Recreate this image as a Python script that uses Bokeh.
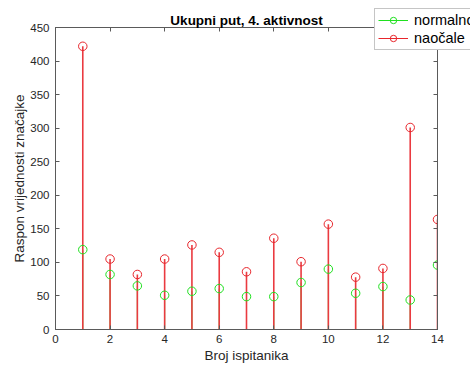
from jinja2 import Template
from bokeh.plotting import figure
from bokeh.models import (ColumnDataSource, LinearAxis, FixedTicker, Range1d,
                          Legend, LegendItem)
from bokeh.embed import file_html
from bokeh.resources import INLINE

# Feature range per participant, activity 4
subjects = list(range(1, 15))
normalno = [119, 82, 65, 51, 57, 61, 49, 49, 70, 90, 54, 64, 44, 96]
naocale = [422, 105, 82, 105, 126, 115, 86, 136, 101, 157, 78, 91, 301, 164]

x_ticks = [0, 2, 4, 6, 8, 10, 12, 14]
y_ticks = [0, 50, 100, 150, 200, 250, 300, 350, 400, 450]

GREEN = "#1fe01f"
RED = "#e8262c"
STEM_RED = "#ea3a40"
AXIS = "#5a5a5a"
TEXT = "#262626"
FONT = "Liberation Sans"
W, H = 470, 365

p = figure(width=W, height=H, output_backend="svg", toolbar_location=None,
           x_range=Range1d(0, 14), y_range=Range1d(0, 450),
           min_border_left=55, min_border_right=33,
           min_border_top=27, min_border_bottom=36,
           title="Ukupni put, 4. aktivnost")
p.background_fill_color = "white"
p.border_fill_color = "white"
p.outline_line_color = AXIS
p.xgrid.visible = False
p.ygrid.visible = False

p.title.align = "center"
p.title.text_font = FONT
p.title.text_font_size = "13.5px"
p.title.text_font_style = "bold"
p.title.text_color = "black"
p.title.standoff = 0
p.title.offset = 0

src_n = ColumnDataSource(dict(x=subjects, y=normalno, y0=[0] * len(subjects)))
src_o = ColumnDataSource(dict(x=subjects, y=naocale, y0=[0] * len(subjects)))

# stems: the red series is drawn on top of the green one
p.segment(x0="x", y0="y0", x1="x", y1="y", source=src_n,
          line_color=GREEN, line_width=1)
p.segment(x0="x", y0="y0", x1="x", y1="y", source=src_o,
          line_color=STEM_RED, line_width=1.6)
p.scatter(x="x", y="y", source=src_n, marker="circle", size=8.5,
          fill_color=None, line_color=GREEN, line_width=1)
p.scatter(x="x", y="y", source=src_o, marker="circle", size=8.5,
          fill_color=None, line_color=RED, line_width=1)


def style_axis(ax, show_labels=True):
    ax.axis_line_color = AXIS
    ax.major_tick_line_color = AXIS
    ax.major_tick_in = 4
    ax.major_tick_out = 0
    ax.minor_tick_line_color = None
    ax.major_label_text_font = FONT
    if show_labels:
        ax.major_label_text_color = TEXT
        ax.major_label_text_font_size = "11.5px"
    else:
        # tick marks only, no labels
        ax.major_label_text_color = None
        ax.major_label_text_font_size = "1px"
        ax.major_label_standoff = 0


xa = p.xaxis[0]
xa.ticker = FixedTicker(ticks=x_ticks)
style_axis(xa)
xa.major_label_standoff = 5
xa.axis_label = "Broj ispitanika"
xa.axis_label_standoff = 2
xa.axis_label_text_font = FONT
xa.axis_label_text_font_size = "13.5px"
xa.axis_label_text_font_style = "normal"
xa.axis_label_text_color = TEXT

ya = p.yaxis[0]
ya.ticker = FixedTicker(ticks=y_ticks)
style_axis(ya)
ya.major_label_standoff = 6
ya.axis_label = "Raspon vrijednosti značajke"
ya.axis_label_standoff = 0
ya.axis_label_text_font = FONT
ya.axis_label_text_font_size = "13.5px"
ya.axis_label_text_font_style = "normal"
ya.axis_label_text_color = TEXT

top = LinearAxis(ticker=FixedTicker(ticks=x_ticks))
style_axis(top, show_labels=False)
p.add_layout(top, "above")
right = LinearAxis(ticker=FixedTicker(ticks=y_ticks))
style_axis(right, show_labels=False)
p.add_layout(right, "right")

# Transparent overlay canvas that carries the legend, so the legend box
# can sit across the top-right corner of the axes.  Its key renderers use
# the same series, but its ranges keep them out of view.
ov = figure(width=W, height=H, output_backend="svg", toolbar_location=None,
            x_range=Range1d(-20, -19), y_range=Range1d(-20, -19),
            min_border=0, min_border_left=0, min_border_right=0,
            min_border_top=0, min_border_bottom=0)
ov.axis.visible = False
ov.xgrid.visible = False
ov.ygrid.visible = False
ov.outline_line_color = None
ov.background_fill_color = None
ov.border_fill_color = None

key_n_line = ov.line(x="x", y="y", source=src_n, line_color=GREEN, line_width=1)
key_n_mark = ov.scatter(x="x", y="y", source=src_n, marker="circle", size=8.5,
                        fill_color=None, line_color=GREEN, line_width=1)
key_o_line = ov.line(x="x", y="y", source=src_o, line_color=RED, line_width=1)
key_o_mark = ov.scatter(x="x", y="y", source=src_o, marker="circle", size=8.5,
                        fill_color=None, line_color=RED, line_width=1)

legend = Legend(items=[
    LegendItem(label="normalno", renderers=[key_n_line, key_n_mark]),
    LegendItem(label="naočale", renderers=[key_o_line, key_o_mark]),
], location=(374, H - 50), margin=0, padding=3, spacing=2,
    glyph_width=30, glyph_height=16, label_height=16, label_standoff=6,
    label_text_font=FONT, label_text_font_size="14.5px", label_text_color="black",
    border_line_color="#8c8c8c", border_line_width=1,
    background_fill_color="white", background_fill_alpha=1)
ov.add_layout(legend, "center")

# Page with both canvases stacked at the same spot
page = Template("""<!DOCTYPE html>
<html lang="en">
<head>
<meta charset="utf-8">
<title>Ukupni put, 4. aktivnost</title>
<style>html, body { margin: 0; padding: 0; background: white; }</style>
{{ bokeh_css if bokeh_css }}
{{ bokeh_js if bokeh_js }}
</head>
<body>
<div style="position: relative; width: 470px; height: 365px; overflow: hidden;">
  <div style="position: absolute; left: 0; top: 0;">
    <div id="{{ roots[0].elementid }}" style="display: contents;"></div>
  </div>
  <div style="position: absolute; left: 0; top: 0; z-index: 5;">
    <div id="{{ roots[1].elementid }}" style="display: contents;"></div>
  </div>
</div>
{{ plot_script }}
</body>
</html>
""")

open("out.html", "w").write(file_html([p, ov], INLINE, template=page))
